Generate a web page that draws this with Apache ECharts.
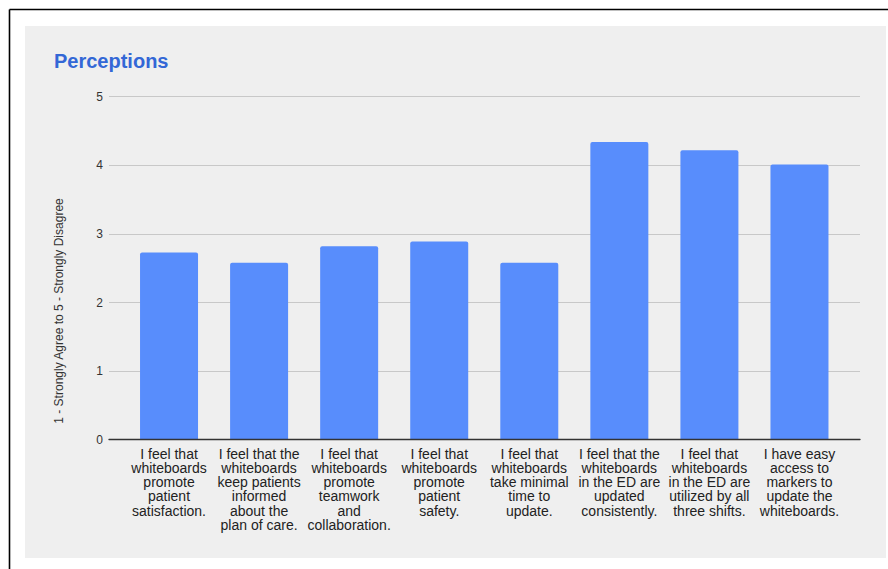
<!DOCTYPE html>
<html>
<head>
<meta charset="utf-8">
<script src="https://cdn.jsdelivr.net/npm/echarts@6/dist/echarts.min.js"></script>
<style>
html,body{margin:0;padding:0;background:#fff;}
#c{width:888px;height:569px;}
</style>
</head>
<body>
<div id="c"></div>
<script>
const titleText = 'Perceptions';
const yAxisTitle = '1 - Strongly Agree to 5 - Strongly Disagree';
const categories = [
  'I feel that\nwhiteboards\npromote\npatient\nsatisfaction.',
  'I feel that the\nwhiteboards\nkeep patients\ninformed\nabout the\nplan of care.',
  'I feel that\nwhiteboards\npromote\nteamwork\nand\ncollaboration.',
  'I feel that\nwhiteboards\npromote\npatient\nsafety.',
  'I feel that\nwhiteboards\ntake minimal\ntime to\nupdate.',
  'I feel that the\nwhiteboards\nin the ED are\nupdated\nconsistently.',
  'I feel that\nwhiteboards\nin the ED are\nutilized by all\nthree shifts.',
  'I have easy\naccess to\nmarkers to\nupdate the\nwhiteboards.'
];
const values = [2.73, 2.58, 2.82, 2.89, 2.58, 4.34, 4.22, 4.01];
const yMin = 0, yMax = 5, yStep = 1;

const chart = echarts.init(document.getElementById('c'), null, {renderer: 'svg'});
const FONT = 'Liberation Sans, Arial, sans-serif';
chart.setOption({
  backgroundColor: 'transparent',
  animation: false,
  graphic: [
    {type: 'rect', shape: {x: 25, y: 26, width: 861, height: 532}, style: {fill: '#efefef'}, z: -10},
    {type: 'line', shape: {x1: 9.5, y1: 9.5, x2: 888, y2: 9.5}, style: {stroke: '#000', lineWidth: 1.6}, z: -10},
    {type: 'line', shape: {x1: 9.5, y1: 9.5, x2: 9.5, y2: 569}, style: {stroke: '#000', lineWidth: 1.6}, z: -10},
    {type: 'text', x: 54, y: 61, style: {text: titleText, fill: '#3367d6', font: 'bold 20px ' + FONT, textVerticalAlign: 'middle'}},
    {type: 'text', x: 59, y: 311, rotation: Math.PI / 2, style: {text: yAxisTitle, fill: '#333', font: '12px ' + FONT, textAlign: 'center', textVerticalAlign: 'middle'}}
  ],
  grid: [
    {left: 109, right: 28, top: 96.7, bottom: 129.3},
    {left: 124, right: 43.5, top: 96.7, bottom: 129.3}
  ],
  xAxis: [
    {gridIndex: 0, type: 'value', min: 0, max: 1, axisLine: {show: true, onZero: true, lineStyle: {color: '#333', width: 1.3}}, axisTick: {show: false}, axisLabel: {show: false}, splitLine: {show: false}, z: 5},
    {gridIndex: 1, type: 'category', data: categories, axisLine: {show: false}, axisTick: {show: false},
      axisLabel: {interval: 0, margin: 7, color: '#222', fontSize: 14, lineHeight: 14.2, fontFamily: FONT, align: 'center'}}
  ],
  yAxis: [
    {gridIndex: 0, type: 'value', min: yMin, max: yMax, interval: yStep,
      axisLine: {show: false}, axisTick: {show: false},
      axisLabel: {margin: 6, color: '#333', fontSize: 12, fontFamily: FONT},
      splitLine: {lineStyle: {color: '#c8c8c8', width: 1}}},
    {gridIndex: 1, type: 'value', min: yMin, max: yMax, interval: yStep, show: false, splitLine: {show: false}}
  ],
  series: [{
    type: 'bar', xAxisIndex: 1, yAxisIndex: 1, data: values, barWidth: 58,
    itemStyle: {color: '#588dfc', borderRadius: [2, 2, 0, 0]}
  }]
});
</script>
</body>
</html>
